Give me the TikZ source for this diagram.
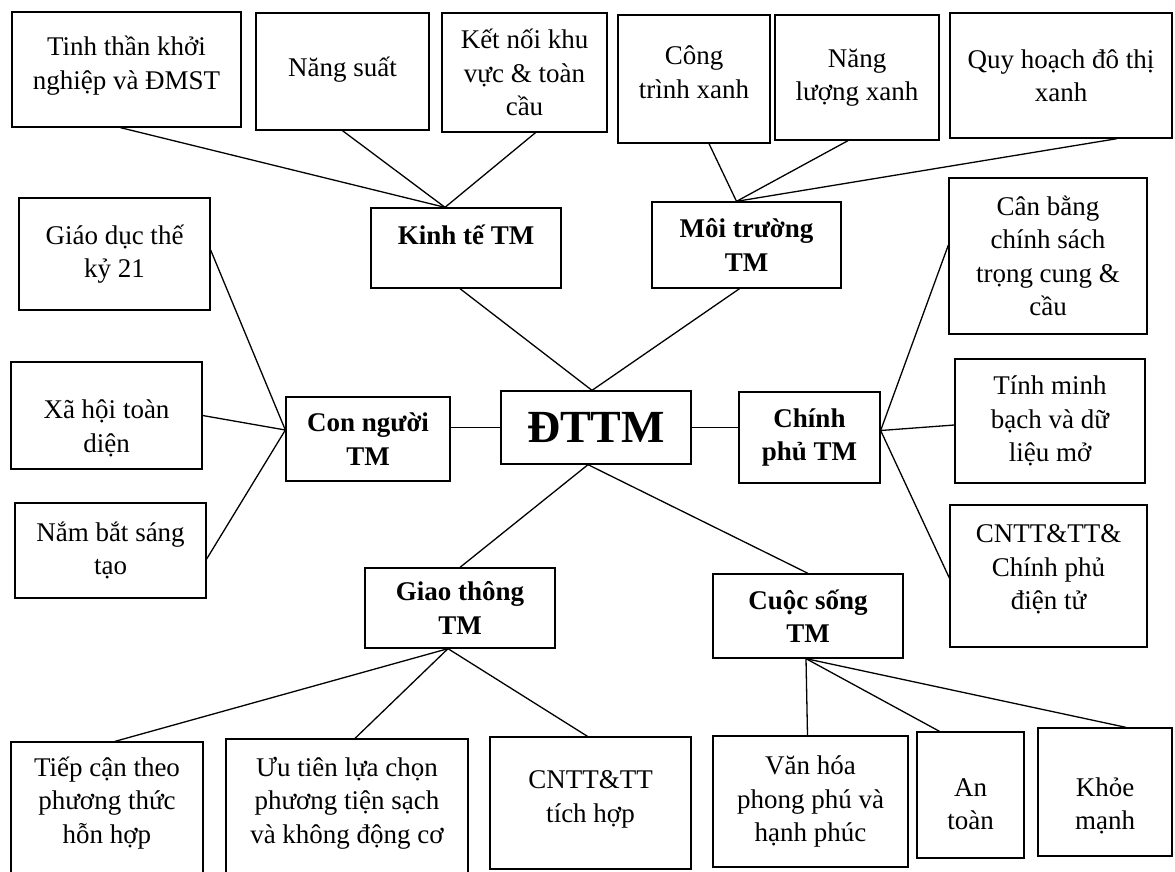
\documentclass[tikz,border=0pt]{standalone}
\usepackage{fontspec}
\setmainfont{Liberation Serif}
\usepackage{tikz}

% empty row under / over the text, to move it up / down in its box
\newcommand{\liftby}[1]{\\[#1pt]\mbox{}}
\newcommand{\dropby}[1]{\mbox{}\\[#1pt]}

\begin{document}
\begin{tikzpicture}[
	x=1pt, y=-1pt,
	% Plain text box
	box/.style={
		draw,
		line width=1.3pt,
		inner sep=0pt,
		align=center,
		font=\fontsize{27}{33.5}\selectfont
	},
	% Bold heading box
	head/.style={
		box,
		font=\bfseries\fontsize{27}{33.5}\selectfont
	},
	% Connector
	link/.style={
		draw,
		line width=1.3pt
	}
	]
	\clip (0,0) rectangle (1175,871);
	
	% ================= CENTRE =================
	\node[head, minimum width=190, minimum height=73, font=\bfseries\fontsize{46}{50}\selectfont] (dttm) at (596,427.5) {ĐTTM};
	
	% ================= KINH TE =================
	\node[head, minimum width=190, minimum height=80] (kinhte) at (466,248) {Kinh tế TM\liftby{-7.5}};
	\node[box, minimum width=229, minimum height=115] (tinh) at (126.5,69.5) {Tinh thần khởi\\nghiệp và ĐMST\liftby{-19.5}};
	\node[box, minimum width=173, minimum height=117] (nangsuat) at (342.5,71.5) {Năng suất\liftby{-23.5}};
	\node[box, minimum width=165, minimum height=119] (ketnoi) at (524.5,72.5) {Kết nối khu\\vực \& toàn\\cầu};
	
	% ================= MOI TRUONG =================
	\node[head, minimum width=189, minimum height=86] (moitruong) at (746.5,245) {Môi trường\\TM};
	\node[box, minimum width=152, minimum height=128] (congtrinh) at (694,79) {Công\\trình xanh\liftby{-19.5}};
	\node[box, minimum width=164, minimum height=125] (nangluong) at (857,77.5) {Năng\\lượng xanh};
	\node[box, minimum width=222, minimum height=125] (quyhoach) at (1061,75.5) {Quy hoạch đô thị\\xanh};
	
	% ================= CON NGUOI =================
	\node[head, minimum width=164, minimum height=84] (connguoi) at (368,439) {Con người\\TM};
	\node[box, minimum width=191, minimum height=112] (giaoduc) at (114.5,254) {Giáo dục thế\\kỷ 21};
	\node[box, minimum width=191, minimum height=107] (xahoi) at (106.5,415.5) {\dropby{10.5}Xã hội toàn\\diện};
	\node[box, minimum width=191, minimum height=95] (nambat) at (110.5,550.5) {Nắm bắt sáng\\tạo};
	
	% ================= CHINH PHU =================
	\node[head, minimum width=141, minimum height=91] (chinhphu) at (809.5,437.5) {Chính\\phủ TM};
	\node[box, minimum width=198, minimum height=156] (canbang) at (1048,256) {Cân bằng\\chính sách\\trọng cung \&\\cầu};
	\node[box, minimum width=190, minimum height=124] (tinhminh) at (1050,421) {Tính minh\\bạch và dữ\\liệu mở};
	\node[box, minimum width=197, minimum height=142] (cntt) at (1048.5,576) {CNTT\&TT\&\\Chính phủ\\điện tử\liftby{-16.5}};
	
	% ================= GIAO THONG =================
	\node[head, minimum width=190, minimum height=80] (giaothong) at (460,608) {Giao thông\\TM};
	\node[box, minimum width=192, minimum height=143] (tiepcan) at (107,813.5) {Tiếp cận theo\\phương thức\\hỗn hợp\liftby{-6.5}};
	\node[box, minimum width=242, minimum height=146] (uutien) at (347,812) {Ưu tiên lựa chọn\\phương tiện sạch\\và không động cơ\liftby{-9.5}};
	\node[box, minimum width=201, minimum height=132] (cntttichhop) at (590.5,803) {CNTT\&TT\\tích hợp\liftby{-20.5}};
	
	% ================= CUOC SONG =================
	\node[head, minimum width=190, minimum height=84] (cuocsong) at (808,616) {Cuộc sống\\TM};
	\node[box, minimum width=195, minimum height=131] (vanhoa) at (810.5,801.5) {Văn hóa\\phong phú và\\hạnh phúc};
	\node[box, minimum width=107, minimum height=126] (antoan) at (970.5,795) {\dropby{3}An\\toàn};
	\node[box, minimum width=134, minimum height=128] (khoemanh) at (1105,792) {\dropby{12.5}Khỏe\\mạnh};
	
	% ================= EDGES =================
	\coordinate (dt-top) at ([xshift=-4]dttm.north);
	\coordinate (dt-bot) at ([xshift=-8]dttm.south);
	
	\coordinate (kt-top) at ([xshift=-21]kinhte.north);
	\draw[link] ([xshift=-6]tinh.south) -- (kt-top);
	\draw[link] (nangsuat.south) -- (kt-top);
	\draw[link] ([xshift=11]ketnoi.south) -- (kt-top);
	\draw[link] ([xshift=-6]kinhte.south) -- (dt-top);
	
	\coordinate (mt-top) at ([xshift=-10]moitruong.north);
	\draw[link] ([xshift=15]congtrinh.south) -- (mt-top);
	\draw[link] ([xshift=-9]nangluong.south) -- (mt-top);
	\draw[link] ([xshift=56]quyhoach.south) -- (mt-top);
	\draw[link] ([xshift=-7]moitruong.south) -- (dt-top);
	
	\coordinate (cn-left) at ([yshift=9]connguoi.west);
	\draw[link] ([yshift=4]giaoduc.east) -- (cn-left);
	\draw[link] (xahoi.east) -- (cn-left);
	\draw[link] ([yshift=-8.5]nambat.east) -- (cn-left);
	\draw[link] (dttm.west) -- (dttm.west -| connguoi.east);
	
	\coordinate (cp-right) at ([yshift=7]chinhphu.east);
	\draw[link] (dttm.east) -- (dttm.east -| chinhphu.west);
	\draw[link] (cp-right) -- ([yshift=11]canbang.west);
	\draw[link] (cp-right) -- ([yshift=-4]tinhminh.west);
	\draw[link] (cp-right) -- ([yshift=-2]cntt.west);
	
	\coordinate (gt-bot) at ([xshift=-12]giaothong.south);
	\draw[link] (dt-bot) -- (giaothong.north);
	\draw[link] (gt-bot) -- ([xshift=8]tiepcan.north);
	\draw[link] (gt-bot) -- ([xshift=8]uutien.north);
	\draw[link] (gt-bot) -- ([xshift=-3]cntttichhop.north);
	
	\coordinate (cs-bot) at ([xshift=-2]cuocsong.south);
	\draw[link] (dt-bot) -- (cuocsong.north);
	\draw[link] (cs-bot) -- ([xshift=-3]vanhoa.north);
	\draw[link] (cs-bot) -- ([xshift=-31]antoan.north);
	\draw[link] (cs-bot) -- ([xshift=21]khoemanh.north);
	
\end{tikzpicture}
\end{document}
